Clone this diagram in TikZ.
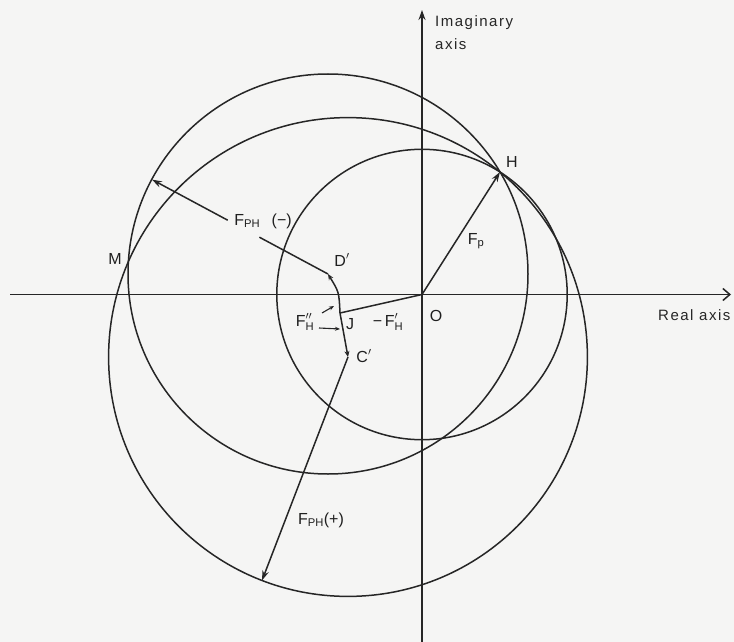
\documentclass[tikz,border=0pt]{standalone}
\usepackage{fontspec}
\usepackage{amsmath}
\setmainfont{Liberation Sans}
\usetikzlibrary{calc,arrows.meta}
\definecolor{bgc}{RGB}{245,245,244}
\newcommand\Fsub[2]{F$_{\text{#1}}^{#2}$}
\begin{document}
\begin{tikzpicture}[x=1pt,y=-1pt,
  ln/.style={line width=1.5pt, draw=black!85},
  vec/.style={ln, -{Stealth[length=10pt,width=6.5pt]}},
  svec/.style={ln, -{Stealth[length=6pt,width=5pt]}},
  ptr/.style={line width=1.1pt, draw=black!85, -{Stealth[length=5pt,width=4pt]}},
  lbl/.style={font=\fontsize{16}{17}\selectfont, text=black!88, inner sep=0pt},
  ax/.style={font=\fontsize{15}{16}\selectfont\addfontfeature{LetterSpace=10}, text=black!85, inner sep=0pt}]
\fill[bgc] (0,0) rectangle (734,642);
\useasboundingbox (0,0) rectangle (734,642);
% points
\coordinate (O) at (422,294.5);
\coordinate (H) at (500,172);
\coordinate (D) at (328,274);
\coordinate (C) at (348,357);
\coordinate (J) at (340,313);
\coordinate (Dt) at (152,179.6);
\coordinate (Ct) at (262,580.5);
\coordinate (Xl) at (10,294.5);
\coordinate (Xr) at (731,294.5);
\coordinate (Yb) at (422,642);
\coordinate (Yt) at (422,10);
\coordinate (Dg1) at ($(D)!0.39!(Dt)$);
\coordinate (Dg2) at ($(D)!0.57!(Dt)$);
% axes
\draw[ln, -{Straight Barb[length=7pt,width=12pt]}] (Xl) -- (Xr);
\draw[ln, -{Stealth[length=10pt,width=7pt]}] (Yb) -- (Yt);
% circles
\draw[ln] (O) circle[radius=145.2];
\draw[ln] (D) circle[radius=200];
\draw[ln] (C) circle[radius=239.4];
% vectors
\draw[vec] (O) -- (H);
\draw[ln] (O) -- (J);
\draw[svec] (J) .. controls (339,292) .. (D);
\draw[svec] (J) -- (C);
\draw[ln] (D) -- (Dg1);
\draw[vec] (Dg2) -- (Dt);
\draw[vec] (C) -- (Ct);
% pointer arrows
\coordinate (p1s) at (322,313);
\coordinate (p1e) at (334,306);
\coordinate (p2s) at (319,328);
\coordinate (p2e) at (340,329);
\draw[ptr] (p1s) -- (p1e);
\draw[ptr] (p2s) -- (p2e);
% labels
\node[lbl] (lH) at (512,162) {H};
\node[lbl] (lM) at (115,259) {M};
\node[lbl] (lD) at (342,260) {D$'$};
\node[lbl] (lO) at (436,316) {O};
\node[lbl] (lJ) at (350,324) {J};
\node[lbl] (lC) at (364,356) {C$'$};
\node[lbl] (lFp) at (476,241) {F$_{\text{p}}$};
\node[lbl] (lFh1) at (388,322) {−\,\Fsub{H}{\prime}};
\node[lbl] (lFh2) at (305,322) {\Fsub{H}{\prime\prime}};
\node[lbl] (lFm) at (263,221) {F$_{\text{PH}}$\ \ \,(−)};
\node[lbl] (lFpl) at (321,520) {F$_{\text{PH}}$(+)};
\node[ax, anchor=base west] (lIm) at (435,27) {Imaginary};
\node[ax, anchor=base west] (lIa) at (435,50) {axis};
\node[ax, anchor=base west] (lRe) at (658,320) {Real axis};
\end{tikzpicture}
\end{document}
